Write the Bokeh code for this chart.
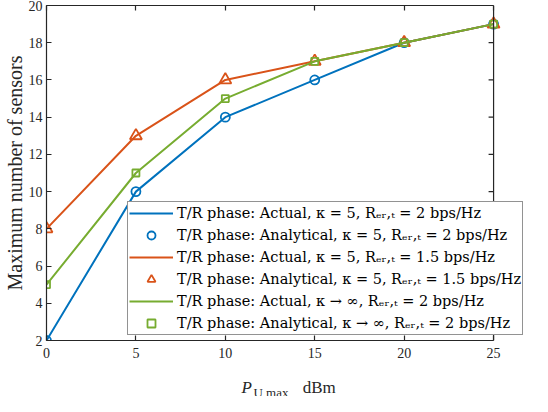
from bokeh.plotting import figure
from bokeh.layouts import column
from bokeh.models import (Range1d, FixedTicker, LinearAxis, Legend, LegendItem,
                          Span, ColumnDataSource)
from bokeh.core.properties import value
from bokeh.embed import file_html
from bokeh.resources import INLINE

# ---- data ----
p_umax = [0, 5, 10, 15, 20, 25]
actual_k5_r2 = [2, 10, 14, 16, 18, 19]
analytical_k5_r2 = [2, 10, 14, 16, 18, 19]
actual_k5_r15 = [8, 13, 16, 17, 18, 19]
analytical_k5_r15 = [8, 13, 16, 17, 18, 19]
actual_kinf_r2 = [5, 11, 15, 17, 18, 19]
analytical_kinf_r2 = [5, 11, 15, 17, 18, 19]

x_ticks = [0, 5, 10, 15, 20, 25]
y_ticks = [2, 4, 6, 8, 10, 12, 14, 16, 18, 20]

labels = [
    "T/R phase: Actual, κ = 5, Rₑᵣ,ₜ = 2 bps/Hz",
    "T/R phase: Analytical, κ = 5, Rₑᵣ,ₜ = 2 bps/Hz",
    "T/R phase: Actual, κ = 5, Rₑᵣ,ₜ = 1.5 bps/Hz",
    "T/R phase: Analytical, κ = 5, Rₑᵣ,ₜ = 1.5 bps/Hz",
    "T/R phase: Actual, κ → ∞, Rₑᵣ,ₜ = 2 bps/Hz",
    "T/R phase: Analytical, κ → ∞, Rₑᵣ,ₜ = 2 bps/Hz",
]
y_title = "Maximum number of sensors"
x_title_parts = ["P", "U,max", "dBm"]

BLUE = "#0072BD"
ORANGE = "#D95319"
GREEN = "#77AC30"
AX = "#262626"
FONT = "'Liberation Serif', serif"
LFONT = "'DejaVu Serif', serif"

# layout (pixels)
W = 532
H1, H2 = 370, 26                 # main figure, x-title strip
FRAME_L, FRAME_T, FRAME_B = 45, 5, 340
X25_PX = 493                     # where x = 25 (the visible box edge) sits
FRAME_R = 531                    # frame extends under the legend overhang
px_per_unit = (X25_PX - FRAME_L) / x_ticks[-1]
x_max = (FRAME_R - FRAME_L) / px_per_unit

p = figure(width=W, height=H1, output_backend="svg", toolbar_location=None,
           x_range=Range1d(0, x_max), y_range=Range1d(y_ticks[0], y_ticks[-1]),
           min_border_left=FRAME_L, min_border_right=W - FRAME_R,
           min_border_top=FRAME_T, min_border_bottom=H1 - FRAME_B)
p.grid.visible = False
p.outline_line_color = None
p.background_fill_color = "white"
p.border_fill_color = "white"

xa = p.xaxis[0]
xa.ticker = FixedTicker(ticks=x_ticks)
xa.bounds = (x_ticks[0], x_ticks[-1])
ya = p.yaxis[0]
ya.ticker = FixedTicker(ticks=y_ticks)
ya.axis_label = y_title
ya.axis_label_text_font = FONT
ya.axis_label_text_font_size = "20px"
ya.axis_label_text_font_style = "normal"
ya.axis_label_text_color = AX
ya.axis_label_standoff = 0
for ax in (xa, ya):
    ax.axis_line_color = AX
    ax.axis_line_width = 1.2
    ax.major_tick_line_color = AX
    ax.major_tick_line_width = 1.2
    ax.major_tick_in = 5
    ax.major_tick_out = 0
    ax.minor_tick_line_color = None
    ax.major_label_text_font = FONT
    ax.major_label_text_font_size = "14px"
    ax.major_label_text_color = AX
ya.major_label_standoff = 4
xa.major_label_standoff = 7

top = LinearAxis(ticker=FixedTicker(ticks=x_ticks),
                 major_label_overrides={t: "" for t in x_ticks},
                 bounds=(x_ticks[0], x_ticks[-1]))
top.axis_line_color = AX
top.axis_line_width = 1.2
top.major_tick_line_color = AX
top.major_tick_line_width = 1.2
top.major_tick_in = 5
top.major_tick_out = 0
top.minor_tick_line_color = None
top.major_label_standoff = 0
p.add_layout(top, "above")

# right edge of the box at x = 25 with inward ticks
p.add_layout(Span(location=x_ticks[-1], dimension="height", line_color=AX,
                  line_width=1.2))
tick_len = 5 / px_per_unit
p.segment(x0=[x_ticks[-1]] * len(y_ticks), y0=y_ticks,
          x1=[x_ticks[-1] - tick_len] * len(y_ticks), y1=y_ticks,
          line_color=AX, line_width=1.2)

src = ColumnDataSource(dict(x=p_umax,
                            a1=actual_k5_r2, b1=analytical_k5_r2,
                            a2=actual_k5_r15, b2=analytical_k5_r15,
                            a3=actual_kinf_r2, b3=analytical_kinf_r2))

LW = 2
l1 = p.line("x", "a1", source=src, line_color=BLUE, line_width=LW)
m1 = p.scatter("x", "b1", source=src, marker="circle", size=9, line_color=BLUE,
               fill_color=None, line_width=1.8)
l2 = p.line("x", "a2", source=src, line_color=ORANGE, line_width=LW)
m2 = p.scatter("x", "b2", source=src, marker="triangle", size=12, line_color=ORANGE,
               fill_color=None, line_width=1.8)
l3 = p.line("x", "a3", source=src, line_color=GREEN, line_width=LW)
m3 = p.scatter("x", "b3", source=src, marker="square", size=7, line_color=GREEN,
               fill_color=None, line_width=1.8)

items = [LegendItem(label=lab, renderers=[r]) for lab, r in
         zip(labels, [l1, m1, l2, m2, l3, m3])]
legend = Legend(items=items, location=(81, 5), margin=0, padding=1, spacing=2,
                label_height=20, glyph_height=20, glyph_width=44,
                label_standoff=4,
                label_text_font=LFONT, label_text_font_size="14.5px",
                label_text_color="black",
                border_line_color=AX, border_line_width=1.2,
                background_fill_color="white", background_fill_alpha=1)
p.add_layout(legend, "center")

# ---- x-axis title strip: P_{U,max} dBm ----
t = figure(width=W, height=H2, output_backend="svg", toolbar_location=None,
           x_range=Range1d(0, W), y_range=Range1d(0, H2),
           min_border=0)
t.axis.visible = False
t.grid.visible = False
t.outline_line_color = None
t.border_fill_color = "white"
t.background_fill_color = "white"
t.text(x=[214], y=[9], text=[x_title_parts[0]], text_font=value(FONT),
       text_font_style="italic", text_font_size="17px", text_color=AX,
       text_baseline="alphabetic")
t.text(x=[227], y=[4], text=[x_title_parts[1]], text_font=value(FONT),
       text_font_size="13px", text_color=AX, text_baseline="alphabetic")
t.text(x=[281], y=[9], text=[x_title_parts[2]], text_font=value(FONT),
       text_font_size="17px", text_color=AX, text_baseline="alphabetic")

layout = column(p, t, spacing=0)
open("out.html", "w").write(file_html(layout, INLINE))
